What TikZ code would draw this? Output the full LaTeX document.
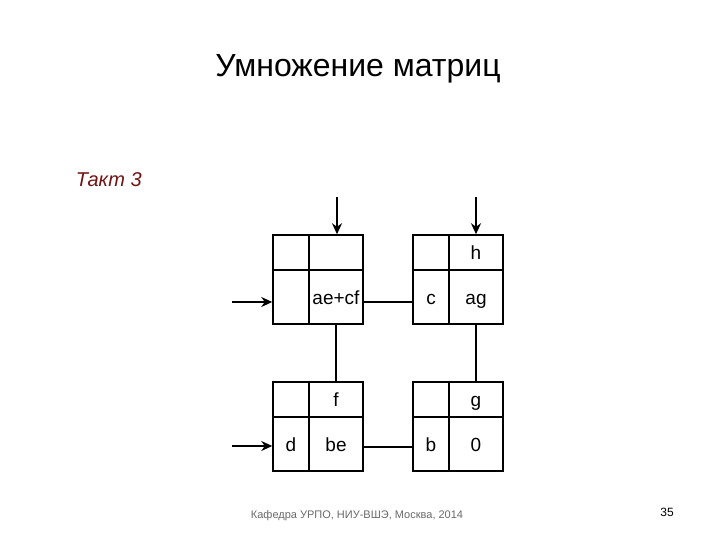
\documentclass[tikz,border=0pt]{standalone}
\usepackage{fontspec}
\setmainfont{Liberation Sans}
\usetikzlibrary{arrows.meta}

\begin{document}
\begin{tikzpicture}[x=1pt, y=-1pt, line width=1.5pt]
	\definecolor{taktred}{RGB}{112, 18, 18}
	\definecolor{footgray}{RGB}{105, 105, 105}
	\tikzset{
		cellbox/.style={draw, inner sep=0pt, text height=14pt, text depth=0pt, font=\fontsize{19}{19}\selectfont},
		feed/.style={line width=2.5pt, -{Stealth[length=11pt, width=10pt]}},
		link/.style={line width=1.5pt}
	}
	\useasboundingbox (0, 0) rectangle (720, 540);

	% titles
	\node[anchor=base, font=\fontsize{32}{32}\selectfont] (title) at (358, 77) {Умножение матриц};
	\node[anchor=base west, inner sep=0pt, font=\fontsize{20}{20}\selectfont\itshape, text=taktred] (takt) at (75, 187) {Такт 3};

	% cells
	\foreach \x/\y/\bname/\tr/\bl/\br in {273/235/A/{}/{}/{ae+cf}, 413/235/B/h/c/ag, 273/382/C/f/d/be, 413/382/D/g/b/0}{
		\node[cellbox, minimum width=36pt, minimum height=35pt] (\bname-nw) at (\x + 18, \y + 17.5) {};
		\node[cellbox, minimum width=54pt, minimum height=35pt] (\bname-ne) at (\x + 63, \y + 17.5) {\tr};
		\node[cellbox, minimum width=36pt, minimum height=54pt] (\bname-sw) at (\x + 18, \y + 62) {\bl};
		\node[cellbox, minimum width=54pt, minimum height=54pt] (\bname-se) at (\x + 63, \y + 62) {\br};
	}

	% links
	\draw[link] ([yshift=-5pt]A-se.east) -- ([yshift=-5pt]B-sw.west);
	\draw[link] ([yshift=-3pt]C-se.east) -- ([yshift=-3pt]D-sw.west);
	\draw[link] (A-se.south) -- (C-ne.north);
	\draw[link] (B-se.south) -- (D-ne.north);

	% inputs
	\coordinate (inA) at (337, 197);
	\coordinate (inB) at (476, 197);
	\coordinate (inAleft) at (232, 302);
	\coordinate (inCleft) at (232, 446);
	\draw[feed] (inA) -- (inA |- A-ne.north);
	\draw[feed] (inB) -- (inB |- B-ne.north);
	\draw[feed] (inAleft) -- (inAleft -| A-nw.west);
	\draw[feed, line width=2pt] (inCleft) -- (inCleft -| C-nw.west);

	% footer
	\node[anchor=base, font=\fontsize{11}{11}\selectfont, text=footgray] (footer) at (357, 518) {Кафедра УРПО, НИУ-ВШЭ, Москва, 2014};
	\node[anchor=base, font=\fontsize{12}{12}\selectfont] (page) at (667, 516) {35};
\end{tikzpicture}
\end{document}
